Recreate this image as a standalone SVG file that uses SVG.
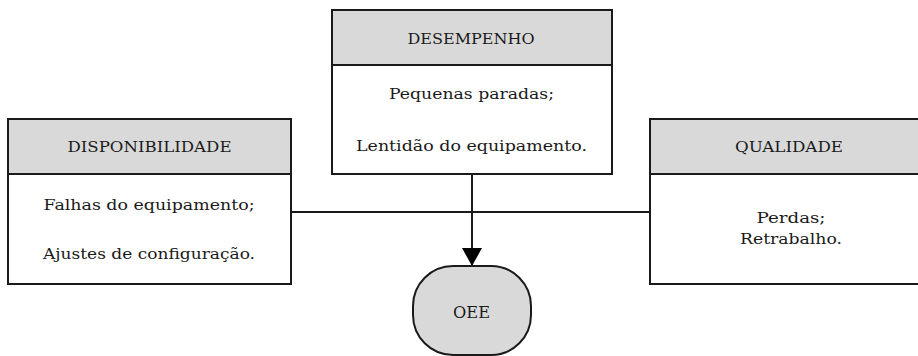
<svg xmlns="http://www.w3.org/2000/svg" width="918" height="356" viewBox="0 0 918 356">
<style>
.box{fill:#ffffff;stroke:#1a1a1a;stroke-width:2}
.hdr{fill:#d9d9d9;stroke:#1a1a1a;stroke-width:2}
.t{font-family:"DejaVu Serif","Liberation Serif",serif;font-size:15px;fill:#1a1a1a;text-anchor:middle}
.b{font-family:"DejaVu Serif","Liberation Serif",serif;font-size:15.5px;fill:#1a1a1a;text-anchor:middle}
.m{font-family:"DejaVu Serif","Liberation Serif",serif;font-size:16px;fill:#1a1a1a;text-anchor:middle}
.ln{stroke:#1a1a1a;stroke-width:2;fill:none}
</style>
<defs>
<marker id="arr" viewBox="0 0 18 20" refX="18" refY="10" markerWidth="18" markerHeight="20" markerUnits="userSpaceOnUse" orient="auto">
<path d="M0,0 L18,10 L0,20 Z" fill="#000"/>
</marker>
</defs>
<g id="connectors">
<line class="ln" x1="291" y1="212" x2="650" y2="212"/>
<line class="ln" x1="472" y1="174" x2="472" y2="266" marker-end="url(#arr)"/>
</g>
<g id="disponibilidade">
<rect class="box" x="8" y="119" width="283" height="165"/>
<rect class="hdr" x="8" y="119" width="283" height="55"/>
<text class="t" x="149.5" y="151.5" textLength="164" lengthAdjust="spacingAndGlyphs">DISPONIBILIDADE</text>
<text class="b" x="149" y="209.5" textLength="211" lengthAdjust="spacingAndGlyphs">Falhas do equipamento;</text>
<text class="b" x="149" y="258.5" textLength="212" lengthAdjust="spacingAndGlyphs">Ajustes de configuração.</text>
</g>
<g id="desempenho">
<rect class="box" x="332" y="10" width="280" height="164"/>
<rect class="hdr" x="332" y="10" width="280" height="55"/>
<text class="t" x="471" y="43.5" textLength="127" lengthAdjust="spacingAndGlyphs">DESEMPENHO</text>
<text class="b" x="471.5" y="98.5" textLength="165" lengthAdjust="spacingAndGlyphs">Pequenas paradas;</text>
<text class="b" x="471.5" y="150.5" textLength="231" lengthAdjust="spacingAndGlyphs">Lentidão do equipamento.</text>
</g>
<g id="qualidade">
<rect class="box" x="650" y="119" width="280" height="165"/>
<rect class="hdr" x="650" y="119" width="280" height="55"/>
<text class="t" x="789" y="151.5" textLength="108" lengthAdjust="spacingAndGlyphs">QUALIDADE</text>
<text class="b" x="791" y="222.5" textLength="69" lengthAdjust="spacingAndGlyphs">Perdas;</text>
<text class="b" x="791" y="243.5" textLength="102" lengthAdjust="spacingAndGlyphs">Retrabalho.</text>
</g>
<g id="oee">
<rect x="413" y="266" width="118" height="89" rx="40" ry="40" fill="#d9d9d9" stroke="#1a1a1a" stroke-width="2"/>
<text class="m" x="471.5" y="318" textLength="37" lengthAdjust="spacingAndGlyphs">OEE</text>
</g>
</svg>
